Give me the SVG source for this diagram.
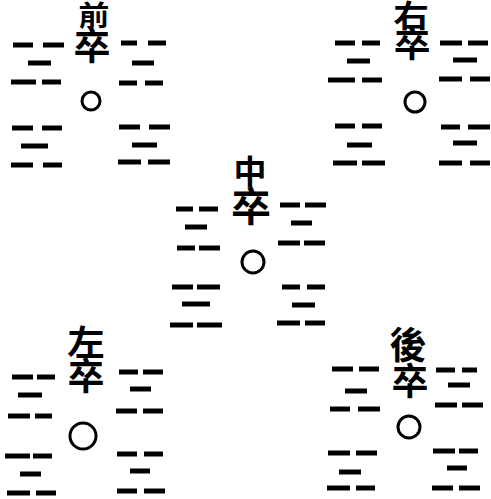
<svg xmlns="http://www.w3.org/2000/svg" width="491" height="499" viewBox="0 0 491 499">
<style>
.b{stroke:#000;stroke-width:5;stroke-linecap:butt}
.c{fill:none;stroke:#000;stroke-width:3}
.t{font-family:"Noto Sans CJK TC","Noto Sans CJK SC",sans-serif;font-weight:700;fill:#000;text-anchor:middle}
</style>
<rect width="491" height="499" fill="#fff"/>
<g id="qianzu">
<text class="t" transform="translate(94,26) scale(1.1,1)" font-size="28">前</text>
<text class="t" x="92" y="60" font-size="37">卒</text>
<circle class="c" cx="91" cy="101" r="9"/>
<g class="b">
<line x1="13" y1="45" x2="33" y2="45"/><line x1="43" y1="45" x2="64" y2="45"/>
<line x1="28" y1="63" x2="51" y2="63"/>
<line x1="11" y1="82" x2="36" y2="82"/><line x1="42" y1="82" x2="61" y2="82"/>
<line x1="12" y1="128" x2="33" y2="128"/><line x1="42" y1="128" x2="62" y2="128"/>
<line x1="21" y1="146" x2="48" y2="146"/>
<line x1="11" y1="165" x2="33" y2="165"/><line x1="43" y1="165" x2="62" y2="165"/>
<line x1="121" y1="43" x2="137" y2="43"/><line x1="148" y1="43" x2="166" y2="43"/>
<line x1="132" y1="63" x2="154" y2="63"/>
<line x1="119" y1="83" x2="137" y2="83"/><line x1="145" y1="83" x2="163" y2="83"/>
<line x1="119" y1="127" x2="140" y2="127"/><line x1="149" y1="127" x2="170" y2="127"/>
<line x1="132" y1="145" x2="157" y2="145"/>
<line x1="118" y1="162" x2="141" y2="162"/><line x1="148" y1="162" x2="170" y2="162"/>
</g>
</g>
<g id="youzu">
<text class="t" transform="translate(411,27) scale(1.15,1)" font-size="31">右</text>
<text class="t" transform="translate(412,57) scale(1.05,1)" font-size="35">卒</text>
<circle class="c" cx="415" cy="102" r="10"/>
<g class="b">
<line x1="335" y1="43" x2="355" y2="43"/><line x1="362" y1="43" x2="380" y2="43"/>
<line x1="347" y1="61" x2="370" y2="61"/>
<line x1="328" y1="80" x2="355" y2="80"/><line x1="362" y1="80" x2="382" y2="80"/>
<line x1="335" y1="126" x2="355" y2="126"/><line x1="362" y1="126" x2="382" y2="126"/>
<line x1="347" y1="145" x2="372" y2="145"/>
<line x1="333" y1="163" x2="357" y2="163"/><line x1="362" y1="163" x2="385" y2="163"/>
<line x1="440" y1="43" x2="462" y2="43"/><line x1="468" y1="43" x2="488" y2="43"/>
<line x1="453" y1="60" x2="477" y2="60"/>
<line x1="439" y1="79" x2="462" y2="79"/><line x1="470" y1="79" x2="490" y2="79"/>
<line x1="441" y1="127" x2="460" y2="127"/><line x1="468" y1="127" x2="490" y2="127"/>
<line x1="453" y1="143" x2="477" y2="143"/>
<line x1="439" y1="163" x2="462" y2="163"/><line x1="470" y1="163" x2="490" y2="163"/>
</g>
</g>
<g id="zhongzu">
<text class="t" x="250" y="184" font-size="33">中</text>
<text class="t" x="251" y="221" font-size="40">卒</text>
<circle class="c" cx="253" cy="262" r="11"/>
<g class="b">
<line x1="176" y1="209" x2="193" y2="209"/><line x1="199" y1="209" x2="218" y2="209"/>
<line x1="185" y1="227" x2="207" y2="227"/>
<line x1="177" y1="248" x2="195" y2="248"/><line x1="199" y1="248" x2="220" y2="248"/>
<line x1="172" y1="287" x2="193" y2="287"/><line x1="197" y1="287" x2="220" y2="287"/>
<line x1="182" y1="304" x2="210" y2="304"/>
<line x1="170" y1="325" x2="193" y2="325"/><line x1="197" y1="325" x2="222" y2="325"/>
<line x1="280" y1="205" x2="300" y2="205"/><line x1="305" y1="205" x2="326" y2="205"/>
<line x1="291" y1="223" x2="312" y2="223"/>
<line x1="278" y1="243" x2="300" y2="243"/><line x1="304" y1="243" x2="325" y2="243"/>
<line x1="282" y1="287" x2="300" y2="287"/><line x1="307" y1="287" x2="325" y2="287"/>
<line x1="292" y1="305" x2="315" y2="305"/>
<line x1="277" y1="323" x2="300" y2="323"/><line x1="305" y1="323" x2="325" y2="323"/>
</g>
</g>
<g id="zuozu">
<text class="t" transform="translate(86,355) scale(1.1,1)" font-size="34">左</text>
<text class="t" x="86" y="390" font-size="37">卒</text>
<circle class="c" cx="83" cy="436" r="13"/>
<g class="b">
<line x1="12" y1="377" x2="33" y2="377"/><line x1="37" y1="377" x2="55" y2="377"/>
<line x1="18" y1="395" x2="42" y2="395"/>
<line x1="8" y1="416" x2="30" y2="416"/><line x1="35" y1="416" x2="52" y2="416"/>
<line x1="5" y1="456" x2="30" y2="456"/><line x1="33" y1="456" x2="52" y2="456"/>
<line x1="20" y1="474" x2="41" y2="474"/>
<line x1="7" y1="493" x2="30" y2="493"/><line x1="36" y1="493" x2="56" y2="493"/>
<line x1="119" y1="372" x2="138" y2="372"/><line x1="143" y1="372" x2="163" y2="372"/>
<line x1="130" y1="389" x2="151" y2="389"/>
<line x1="116" y1="411" x2="137" y2="411"/><line x1="143" y1="411" x2="163" y2="411"/>
<line x1="117" y1="454" x2="137" y2="454"/><line x1="144" y1="454" x2="163" y2="454"/>
<line x1="130" y1="471" x2="150" y2="471"/>
<line x1="117" y1="491" x2="137" y2="491"/><line x1="144" y1="491" x2="165" y2="491"/>
</g>
</g>
<g id="houzu">
<text class="t" x="408" y="359" font-size="37">後</text>
<text class="t" x="410" y="395" font-size="37">卒</text>
<circle class="c" cx="409" cy="427" r="11"/>
<g class="b">
<line x1="332" y1="369" x2="353" y2="369"/><line x1="359" y1="369" x2="379" y2="369"/>
<line x1="345" y1="391" x2="367" y2="391"/>
<line x1="330" y1="409" x2="350" y2="409"/><line x1="358" y1="409" x2="380" y2="409"/>
<line x1="328" y1="453" x2="350" y2="453"/><line x1="356" y1="453" x2="377" y2="453"/>
<line x1="339" y1="472" x2="361" y2="472"/>
<line x1="327" y1="488" x2="350" y2="488"/><line x1="356" y1="488" x2="375" y2="488"/>
<line x1="436" y1="370" x2="455" y2="370"/><line x1="462" y1="370" x2="477" y2="370"/>
<line x1="448" y1="385" x2="470" y2="385"/>
<line x1="435" y1="405" x2="457" y2="405"/><line x1="462" y1="405" x2="483" y2="405"/>
<line x1="433" y1="451" x2="455" y2="451"/><line x1="459" y1="451" x2="478" y2="451"/>
<line x1="447" y1="468" x2="467" y2="468"/>
<line x1="432" y1="488" x2="453" y2="488"/><line x1="459" y1="488" x2="480" y2="488"/>
</g>
</g>
</svg>
